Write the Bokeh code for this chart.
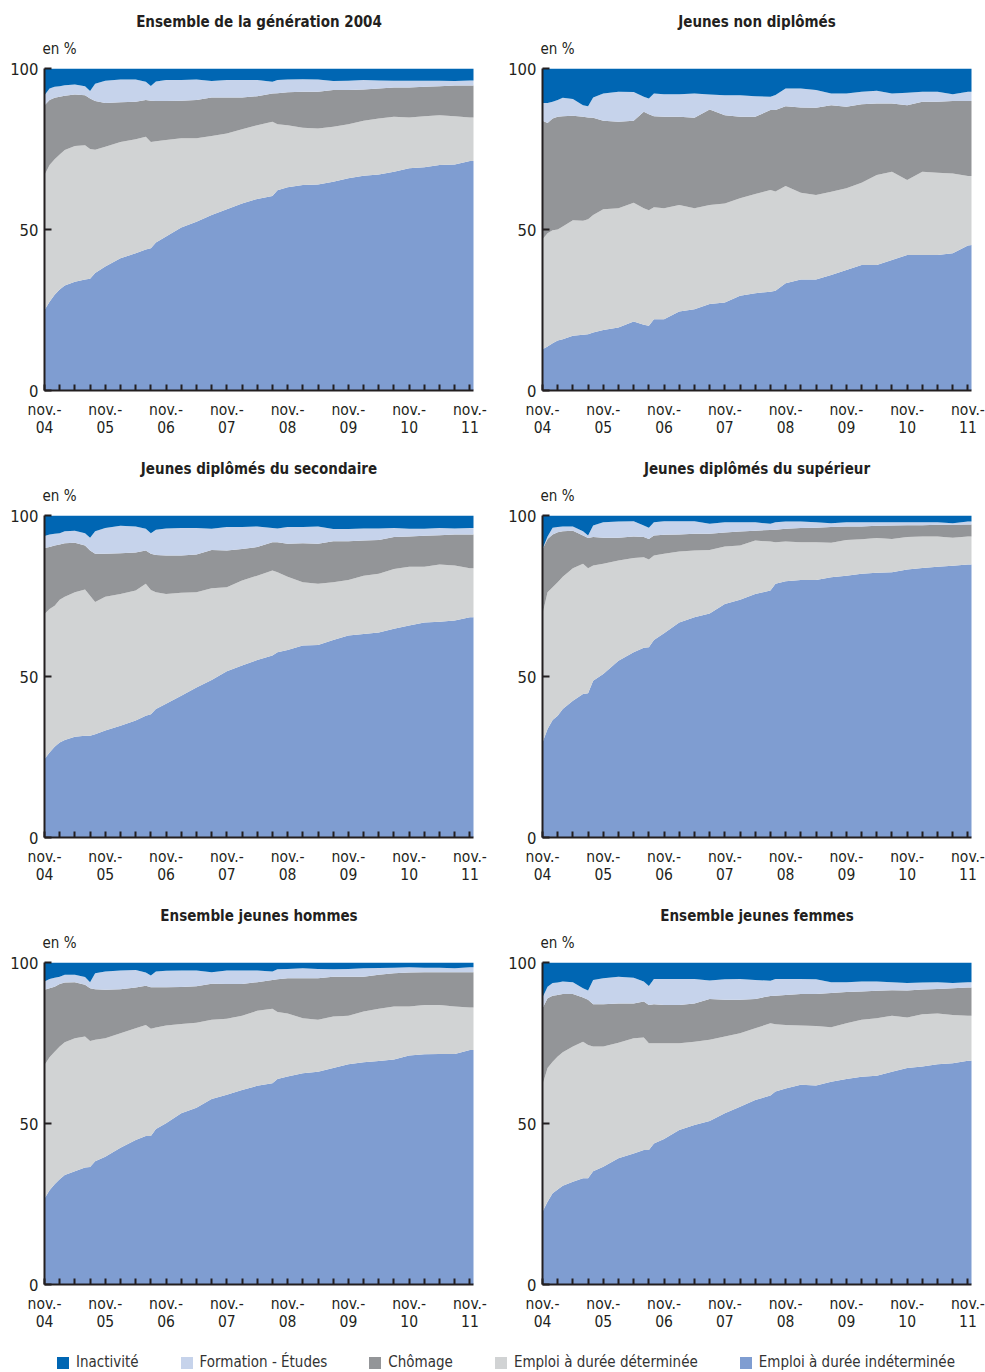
import math
from bokeh.plotting import figure
from bokeh.layouts import column, row
from bokeh.models import ColumnDataSource, FixedTicker, Range1d, Title, Legend, LegendItem
from bokeh.embed import file_html
from bokeh.resources import INLINE

# ---------------- data (shares in %, months after November 2004) ----------------
months = [0, 1, 2, 3, 4, 6, 8, 9, 10, 12, 15, 18, 20, 21, 22, 24, 27, 30, 33, 36, 39, 42,
          45, 46, 48, 51, 54, 57, 60, 63, 66, 69, 72, 75, 78, 81, 84, 85]

categories = ["Emploi à durée indéterminée", "Emploi à durée déterminée", "Chômage",
              "Formation - Études", "Inactivité"]
legend_order = ["Inactivité", "Formation - Études", "Chômage",
                "Emploi à durée déterminée", "Emploi à durée indéterminée"]

panel_titles = ["Ensemble de la génération 2004", "Jeunes non diplômés",
                "Jeunes diplômés du secondaire", "Jeunes diplômés du supérieur",
                "Ensemble jeunes hommes", "Ensemble jeunes femmes"]

label_months = [0, 12, 24, 36, 48, 60, 72, 84]
tick_labels = ["nov.-\n04", "nov.-\n05", "nov.-\n06", "nov.-\n07",
               "nov.-\n08", "nov.-\n09", "nov.-\n10", "nov.-\n11"]
y_ticks = [0, 50, 100]

# Ensemble de la génération 2004
ens_cdi = [25.0, 27.6, 29.7, 31.4, 32.6, 33.8, 34.5, 34.7, 36.5, 38.5, 41.1, 42.6, 43.8, 44.2, 46.0, 47.8, 50.6, 52.4, 54.5, 56.3, 58.1, 59.5, 60.4, 62.2, 63.1, 63.8, 64.0, 64.8, 65.9, 66.7, 67.1, 67.9, 69.0, 69.3, 70.0, 70.2, 71.3, 71.3]
ens_cdd = [41.9, 42.4, 42.1, 41.9, 42.1, 42.1, 41.7, 40.3, 38.3, 37.2, 36.1, 35.4, 35.0, 33.0, 31.4, 30.0, 27.7, 25.9, 24.5, 23.5, 23.0, 22.9, 23.1, 20.5, 19.3, 17.8, 17.4, 17.1, 16.8, 17.1, 17.4, 17.1, 15.8, 15.9, 15.5, 15.0, 13.5, 13.5]
ens_chom = [21.7, 20.2, 19.1, 17.9, 16.8, 16.0, 15.5, 15.7, 15.1, 13.6, 12.3, 11.7, 11.4, 12.8, 12.5, 12.1, 11.7, 11.9, 12.0, 11.2, 9.9, 9.0, 8.7, 9.6, 10.2, 11.2, 11.4, 11.4, 10.6, 9.7, 9.3, 9.1, 9.3, 9.1, 9.0, 9.5, 9.9, 9.9]
ens_form = [3.1, 3.6, 3.4, 3.3, 3.3, 3.1, 2.8, 2.3, 5.4, 6.9, 7.1, 6.9, 5.7, 4.6, 6.1, 6.5, 6.4, 6.4, 5.1, 5.4, 5.4, 5.0, 3.7, 4.1, 4.0, 3.9, 3.8, 2.8, 2.9, 2.9, 2.5, 2.1, 2.1, 1.9, 1.7, 1.4, 1.6, 1.6]
ens_inact = [8.3, 6.2, 5.7, 5.5, 5.2, 5.0, 5.5, 7.0, 4.7, 3.8, 3.4, 3.4, 4.1, 5.4, 4.0, 3.6, 3.6, 3.4, 3.9, 3.6, 3.6, 3.6, 4.1, 3.6, 3.4, 3.3, 3.4, 3.9, 3.8, 3.6, 3.7, 3.8, 3.8, 3.8, 3.8, 3.9, 3.7, 3.7]

# Jeunes non diplômés
nd_cdi = [12.8, 13.7, 14.7, 15.5, 15.9, 17.0, 17.3, 17.5, 18.0, 18.8, 19.6, 21.4, 20.4, 20.1, 22.1, 22.1, 24.5, 25.2, 26.9, 27.3, 29.4, 30.2, 30.7, 31.0, 33.3, 34.5, 34.5, 35.9, 37.4, 39.0, 39.0, 40.5, 42.1, 42.1, 42.1, 42.6, 45.0, 45.2]
nd_cdd = [34.2, 35.1, 35.1, 34.5, 35.0, 35.9, 35.4, 35.7, 36.5, 37.5, 37.0, 36.9, 36.2, 35.9, 34.8, 34.5, 33.1, 31.4, 30.7, 30.8, 30.3, 30.8, 31.6, 30.8, 30.2, 26.9, 26.2, 25.8, 25.4, 25.5, 27.9, 27.4, 23.3, 25.8, 25.5, 24.8, 21.6, 21.4]
nd_chom = [36.8, 34.3, 34.7, 35.0, 34.3, 32.4, 32.3, 31.6, 30.2, 27.5, 26.9, 25.5, 30.0, 29.8, 28.3, 28.4, 27.4, 28.1, 29.7, 27.4, 25.3, 24.0, 24.8, 25.3, 24.8, 26.5, 27.1, 26.9, 25.3, 24.4, 22.2, 21.2, 23.2, 21.8, 22.1, 22.5, 23.3, 23.3]
nd_form = [5.5, 6.2, 5.2, 5.2, 5.7, 5.2, 3.6, 3.5, 6.3, 8.4, 9.3, 8.9, 4.6, 4.9, 7.0, 7.0, 7.0, 7.5, 4.6, 6.2, 6.7, 6.4, 4.1, 4.7, 5.5, 5.9, 5.5, 3.6, 4.1, 3.9, 4.0, 3.1, 3.9, 3.1, 3.1, 2.1, 2.9, 2.9]
nd_inact = [10.7, 10.7, 10.3, 9.8, 9.1, 9.5, 11.4, 11.7, 9.0, 7.8, 7.2, 7.3, 8.8, 9.3, 7.8, 8.0, 8.0, 7.8, 8.1, 8.3, 8.3, 8.6, 8.8, 8.2, 6.2, 6.2, 6.7, 7.8, 7.8, 7.2, 6.9, 7.8, 7.5, 7.2, 7.2, 8.0, 7.2, 7.2]

# Jeunes diplômés du secondaire
sec_cdi = [24.4, 26.4, 28.2, 29.5, 30.3, 31.3, 31.6, 31.6, 32.1, 33.2, 34.7, 36.3, 37.8, 38.3, 39.9, 41.5, 44.0, 46.6, 48.9, 51.6, 53.4, 55.1, 56.5, 57.5, 58.2, 59.6, 59.8, 61.3, 62.7, 63.2, 63.7, 64.8, 65.8, 66.8, 67.0, 67.4, 68.4, 68.4]
sec_cdd = [45.0, 44.6, 43.8, 44.3, 44.5, 44.9, 45.4, 43.5, 41.0, 41.6, 40.9, 40.4, 41.0, 38.6, 36.3, 34.1, 32.0, 29.6, 28.5, 26.1, 26.4, 26.2, 26.4, 24.9, 22.8, 19.7, 19.0, 18.0, 17.3, 18.1, 18.2, 18.6, 18.3, 17.3, 17.8, 17.1, 15.2, 15.2]
sec_chom = [20.5, 19.2, 18.7, 17.2, 16.6, 15.3, 13.7, 14.0, 15.0, 13.3, 12.7, 11.8, 10.3, 11.2, 11.5, 12.0, 11.6, 11.7, 11.9, 11.4, 9.8, 8.9, 8.8, 9.3, 10.2, 12.1, 12.4, 12.7, 12.0, 10.9, 10.5, 9.9, 9.4, 9.6, 9.1, 9.6, 10.5, 10.5]
sec_form = [3.7, 3.9, 3.6, 3.5, 3.7, 3.8, 3.8, 4.0, 7.0, 8.0, 8.5, 8.1, 6.8, 6.4, 7.9, 8.4, 8.5, 8.2, 6.6, 7.3, 6.8, 6.4, 4.4, 4.3, 5.2, 5.0, 5.4, 3.8, 3.8, 3.8, 3.6, 2.8, 2.4, 2.2, 2.2, 1.9, 2.0, 2.0]
sec_inact = [6.4, 5.9, 5.7, 5.5, 4.9, 4.7, 5.5, 6.9, 4.9, 3.9, 3.2, 3.4, 4.1, 5.5, 4.4, 4.0, 3.9, 3.9, 4.1, 3.6, 3.6, 3.4, 3.9, 4.0, 3.6, 3.6, 3.4, 4.2, 4.2, 4.0, 4.0, 3.9, 4.1, 4.1, 3.9, 4.0, 3.9, 3.9]

# Jeunes diplômés du supérieur
sup_cdi = [29.5, 33.7, 36.5, 37.8, 39.9, 42.5, 44.6, 44.8, 48.7, 50.8, 54.9, 57.5, 58.9, 59.1, 61.3, 63.4, 66.8, 68.4, 69.6, 72.5, 73.8, 75.6, 76.7, 78.8, 79.6, 80.0, 80.0, 80.8, 81.3, 81.9, 82.2, 82.4, 83.2, 83.7, 84.1, 84.4, 84.8, 84.8]
sup_cdd = [39.9, 42.5, 41.2, 41.5, 41.1, 41.1, 40.4, 38.8, 35.8, 34.2, 31.1, 29.3, 28.1, 27.2, 26.3, 24.7, 22.0, 20.7, 19.7, 17.9, 16.9, 16.6, 15.2, 12.9, 12.3, 11.7, 11.7, 10.7, 11.1, 10.7, 10.8, 10.3, 10.1, 9.8, 9.4, 8.7, 8.7, 8.7]
sup_chom = [20.2, 16.5, 16.4, 15.5, 14.1, 11.7, 8.8, 9.4, 8.8, 8.1, 7.1, 6.7, 6.3, 6.4, 6.2, 5.9, 5.3, 5.2, 5.0, 4.3, 4.3, 3.1, 3.6, 3.9, 4.0, 4.4, 4.5, 4.9, 4.2, 4.0, 3.8, 4.2, 3.7, 3.5, 3.6, 4.0, 3.7, 3.7]
sup_form = [0.0, 0.8, 2.1, 1.6, 1.5, 1.3, 1.3, 0.8, 3.6, 4.8, 5.0, 4.7, 3.6, 3.5, 4.1, 4.2, 4.1, 3.9, 3.1, 3.2, 2.9, 2.6, 1.9, 2.3, 2.2, 2.0, 1.7, 1.2, 1.3, 1.3, 1.1, 1.0, 0.9, 0.9, 0.8, 0.5, 0.9, 0.9]
sup_inact = [10.4, 6.5, 3.8, 3.6, 3.4, 3.4, 4.9, 6.2, 3.1, 2.1, 1.9, 1.8, 3.1, 3.8, 2.1, 1.8, 1.8, 1.8, 2.6, 2.1, 2.1, 2.1, 2.6, 2.1, 1.9, 1.9, 2.1, 2.4, 2.1, 2.1, 2.1, 2.1, 2.1, 2.1, 2.1, 2.4, 1.9, 1.9]

# Ensemble jeunes hommes
hom_cdi = [26.7, 29.3, 31.1, 32.7, 34.0, 35.2, 36.3, 36.5, 38.3, 39.7, 42.5, 44.9, 46.1, 46.1, 48.3, 50.1, 53.2, 54.9, 57.6, 58.9, 60.4, 61.7, 62.5, 63.8, 64.6, 65.6, 66.1, 67.2, 68.4, 69.0, 69.4, 69.9, 71.1, 71.5, 71.6, 71.6, 72.8, 72.8]
hom_cdd = [41.5, 41.3, 41.2, 41.2, 41.2, 41.3, 40.7, 39.1, 37.7, 36.8, 35.5, 34.7, 34.5, 33.3, 31.5, 30.3, 27.7, 26.4, 24.6, 23.6, 23.1, 23.3, 23.1, 20.8, 19.6, 17.1, 16.1, 16.0, 15.1, 15.8, 16.2, 16.4, 15.2, 15.3, 15.2, 14.7, 13.2, 13.2]
hom_chom = [23.3, 21.4, 20.2, 19.4, 18.6, 17.4, 16.1, 16.4, 15.7, 15.0, 13.7, 12.6, 12.2, 12.9, 12.5, 11.9, 11.5, 11.3, 11.2, 10.8, 9.8, 8.9, 9.0, 10.2, 10.9, 12.4, 12.9, 12.4, 12.1, 10.8, 10.6, 10.4, 10.6, 10.2, 10.2, 10.7, 11.0, 11.0]
hom_form = [2.6, 2.9, 2.8, 2.3, 2.4, 2.3, 2.4, 1.9, 5.0, 5.7, 5.8, 5.5, 4.1, 3.7, 4.9, 5.1, 5.1, 4.9, 3.6, 4.2, 4.2, 3.6, 2.6, 3.1, 2.9, 3.1, 2.9, 2.3, 2.4, 2.6, 2.1, 1.7, 1.6, 1.4, 1.4, 1.2, 1.5, 1.5]
hom_inact = [5.9, 5.1, 4.7, 4.4, 3.8, 3.8, 4.5, 6.1, 3.3, 2.8, 2.5, 2.3, 3.1, 4.0, 2.8, 2.6, 2.5, 2.5, 3.0, 2.5, 2.5, 2.5, 2.8, 2.1, 2.0, 1.8, 2.0, 2.1, 2.0, 1.8, 1.7, 1.6, 1.5, 1.6, 1.6, 1.8, 1.5, 1.5]

# Ensemble jeunes femmes
fem_cdi = [22.6, 25.7, 28.3, 29.5, 30.7, 31.9, 33.0, 33.0, 35.2, 36.6, 39.2, 40.7, 41.8, 41.8, 43.8, 45.2, 48.0, 49.5, 50.8, 53.2, 55.2, 57.3, 58.7, 59.9, 60.9, 62.0, 61.8, 63.0, 63.8, 64.5, 64.8, 66.1, 67.2, 67.7, 68.4, 68.7, 69.5, 69.5]
fem_cdd = [39.4, 41.5, 40.9, 41.3, 41.4, 42.0, 42.4, 41.4, 38.7, 37.3, 35.9, 35.8, 34.9, 33.1, 31.1, 29.7, 26.9, 25.9, 25.2, 23.8, 22.8, 22.3, 22.4, 20.9, 19.7, 18.4, 18.5, 16.9, 17.3, 17.7, 17.9, 17.4, 15.7, 16.2, 15.8, 15.0, 14.0, 14.0]
fem_chom = [23.8, 21.7, 20.5, 19.1, 18.1, 16.3, 13.7, 14.0, 13.1, 13.1, 12.2, 10.8, 11.2, 11.9, 12.1, 11.9, 11.9, 11.9, 12.7, 11.4, 10.4, 9.1, 8.5, 8.9, 9.3, 9.8, 9.9, 10.6, 9.7, 8.8, 8.5, 7.9, 8.4, 7.7, 7.6, 8.3, 8.7, 8.7]
fem_form = [3.3, 3.6, 3.9, 3.9, 3.9, 3.7, 2.9, 2.9, 7.6, 8.1, 8.3, 8.0, 6.2, 5.9, 7.9, 8.1, 8.1, 7.6, 5.7, 6.4, 6.5, 5.9, 4.7, 5.2, 5.0, 4.7, 4.6, 3.4, 3.1, 3.1, 2.9, 2.5, 2.3, 2.2, 2.1, 1.6, 1.7, 1.7]
fem_inact = [10.9, 7.5, 6.4, 6.2, 5.9, 6.1, 8.0, 8.7, 5.4, 4.9, 4.4, 4.7, 5.9, 7.3, 5.1, 5.1, 5.1, 5.1, 5.6, 5.2, 5.1, 5.4, 5.7, 5.1, 5.1, 5.1, 5.2, 6.1, 6.1, 5.9, 5.9, 6.1, 6.4, 6.2, 6.1, 6.4, 6.1, 6.1]

# ---------------- styling ----------------
FONT = "'DejaVu Sans Condensed', Roboto, sans-serif"
INK = "#231f20"
colors = ["#7f9dd1", "#d1d3d4", "#939598", "#c6d3eb", "#0066b3"]
color_of = dict(zip(categories, colors))
keys = ["cdi", "cdd", "chom", "form", "inact"]

panels_data = [
    (ens_cdi, ens_cdd, ens_chom, ens_form, ens_inact),
    (nd_cdi, nd_cdd, nd_chom, nd_form, nd_inact),
    (sec_cdi, sec_cdd, sec_chom, sec_form, sec_inact),
    (sup_cdi, sup_cdd, sup_chom, sup_form, sup_inact),
    (hom_cdi, hom_cdd, hom_chom, hom_form, hom_inact),
    (fem_cdi, fem_cdd, fem_chom, fem_form, fem_inact),
]

tick_months = list(range(0, 85, 3))


def make_panel(title, series, left_col):
    data = {"month": months}
    for k, s in zip(keys, series):
        data[k] = s
    src = ColumnDataSource(data)
    p = figure(frame_width=429, frame_height=322,
               min_border_left=44, min_border_right=25 if left_col else 14,
               min_border_top=68, min_border_bottom=57,
               x_range=Range1d(0, 84.7), y_range=Range1d(0, 100),
               toolbar_location=None, output_backend="svg")
    p.varea_stack(stackers=keys, x="month", color=colors, source=src)

    p.grid.visible = False
    p.outline_line_color = None
    p.background_fill_color = "white"

    xa = p.xaxis[0]
    xa.ticker = FixedTicker(ticks=tick_months, minor_ticks=[])
    overrides = {m: "" for m in tick_months}
    for m, lab in zip(label_months, tick_labels):
        overrides[m] = lab
    xa.major_label_overrides = overrides
    xa.major_tick_in = 6
    xa.major_tick_out = 0
    xa.major_tick_line_width = 2
    xa.major_tick_line_color = INK
    xa.axis_line_width = 2
    xa.axis_line_color = INK
    xa.major_label_text_font = FONT
    xa.major_label_text_font_size = "15.5px"
    xa.major_label_text_color = INK
    xa.major_label_text_line_height = 1.0
    xa.major_label_standoff = 10

    ya = p.yaxis[0]
    ya.ticker = FixedTicker(ticks=y_ticks, minor_ticks=[])
    ya.major_tick_in = 7
    ya.major_tick_out = 0
    ya.major_tick_line_width = 2
    ya.major_tick_line_color = INK
    ya.axis_line_width = 2
    ya.axis_line_color = INK
    ya.major_label_text_font = FONT
    ya.major_label_text_font_size = "16.5px"
    ya.major_label_text_color = INK
    ya.major_label_standoff = 6

    p.add_layout(Title(text="en %", align="left", offset=-2, standoff=18,
                       vertical_align="top",
                       text_font=FONT, text_font_size="15px",
                       text_font_style="normal", text_color=INK), "above")
    p.add_layout(Title(text=title, align="center", standoff=0,
                       text_font=FONT, text_font_size="15px",
                       text_font_style="bold", text_color=INK), "above")
    return p


figs = [make_panel(t, s, i % 2 == 0) for i, (t, s) in enumerate(zip(panel_titles, panels_data))]

# legend strip (proxy renderers hold a single missing value, so nothing is drawn in the strip)
leg = figure(width=985, height=31, toolbar_location=None, output_backend="svg",
             x_axis_type=None, y_axis_type=None, min_border=0,
             x_range=Range1d(0, 1), y_range=Range1d(0, 1))
leg.grid.visible = False
leg.outline_line_color = None
items = []
for name in legend_order:
    r = leg.varea(x=[math.nan], y1=[math.nan], y2=[math.nan], fill_color=color_of[name])
    items.append(LegendItem(label=name, renderers=[r]))
legend = Legend(items=items, orientation="horizontal", location=(55, 0),
                glyph_width=15, glyph_height=15, label_standoff=6, spacing=40,
                padding=0, margin=0, border_line_color=None, background_fill_alpha=0,
                label_text_font=FONT, label_text_font_size="15px", label_text_color="#333333",
                label_height=20)
leg.add_layout(legend, "center")

layout = column(row(figs[0], figs[1]), row(figs[2], figs[3]), row(figs[4], figs[5]), leg)

open("out.html", "w").write(file_html(layout, INLINE))
